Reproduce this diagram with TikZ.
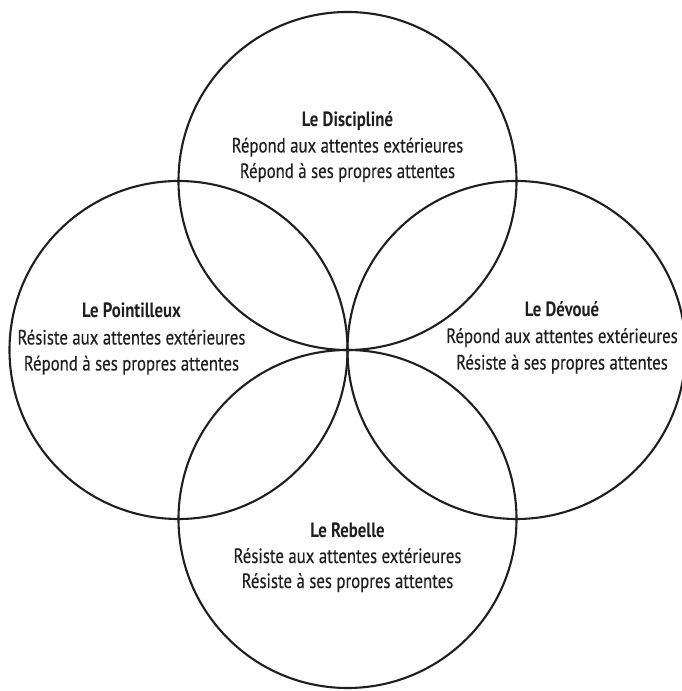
\documentclass[tikz,border=0pt]{standalone}
\usepackage{fontspec}
\setmainfont{PT Sans}[FakeStretch=0.81]
\newfontfamily\regfont{PT Sans}[FakeStretch=0.81,FakeBold=0.25]
\begin{document}
\begin{tikzpicture}[x=1pt,y=1pt,
  ring/.style={circle, draw=black!88, line width=2.1pt, minimum size=338pt, inner sep=0pt},
  ttl/.style={anchor=base, font=\fontsize{20.7}{25}\selectfont\bfseries, text=black!88, inner sep=0pt},
  lne/.style={anchor=base, font=\fontsize{20.7}{25}\regfont, text=black!88, inner sep=0pt}]
\useasboundingbox (0,0) rectangle (681,691);
% circles (all four pass through the common centre point)
\node[ring] (ctop) at (347.5,510) {};
\node[ring] (cleft) at (178.5,341) {};
\node[ring] (cright) at (516.5,341) {};
\node[ring] (cbot) at (347.5,172) {};
% top
\node[ttl] (top1) at (347.5,564) {Le Discipliné};
\node[lne] (top2) at (347.5,538.5) {Répond aux attentes extérieures};
\node[lne] (top3) at (347.5,513) {Répond à ses propres attentes};
% left
\node[ttl] (left1) at (131.5,373) {Le Pointilleux};
\node[lne] (left2) at (131.5,346.5) {Résiste aux attentes extérieures};
\node[lne] (left3) at (131.5,320.5) {Répond à ses propres attentes};
% right
\node[ttl] (right1) at (562,374) {Le Dévoué};
\node[lne] (right2) at (562,348) {Répond aux attentes extérieures};
\node[lne] (right3) at (562,321.5) {Résiste à ses propres attentes};
% bottom
\node[ttl] (bot1) at (347.5,153) {Le Rebelle};
\node[lne] (bot2) at (347.5,128) {Résiste aux attentes extérieures};
\node[lne] (bot3) at (347.5,103) {Résiste à ses propres attentes};
\end{tikzpicture}
\end{document}
